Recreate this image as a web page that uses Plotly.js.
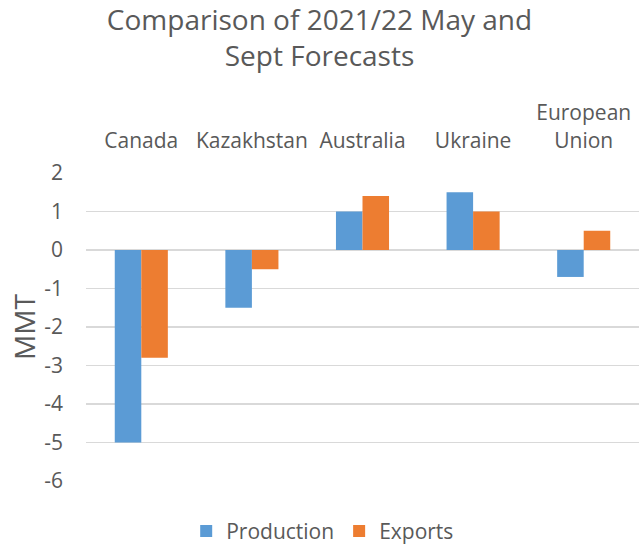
<!DOCTYPE html>
<html>
<head>
<meta charset="utf-8">
<script src="https://cdn.plot.ly/plotly-3.0.1.min.js"></script>
<style>html,body{margin:0;padding:0;background:#fff;}#chart{width:639px;height:545px;}</style>
</head>
<body>
<div id="chart"></div>
<script>
const categories = ["Canada", "Kazakhstan", "Australia", "Ukraine", "European<br>Union"];
const production = [-5, -1.5, 1, 1.5, -0.7];
const exports = [-2.8, -0.5, 1.4, 1, 0.5];
const yTicks = [2, 1, 0, -1, -2, -3, -4, -5, -6];

const font = "'Open Sans', sans-serif";
const txt = "#595959";

const data = [
  {type: "bar", name: "Production", x: categories, y: production,
   marker: {color: "#5B9BD5", line: {width: 0}}},
  {type: "bar", name: "Exports", x: categories, y: exports,
   marker: {color: "#ED7D31", line: {width: 0}}}
];

const layout = {
  width: 639, height: 545,
  margin: {l: 86, r: 0, t: 173, b: 64, autoexpand: false},
  paper_bgcolor: "#fff", plot_bgcolor: "#fff",
  font: {family: font, color: txt, size: 18},
  title: {text: "Comparison of 2021/22 May and<br>Sept Forecasts",
          x: 0.5, xanchor: "center", y: 0.945, yanchor: "top",
          font: {size: 28, color: txt, family: font}},
  barmode: "group", bargap: 0.52, bargroupgap: 0,
  xaxis: {side: "top", showgrid: false, zeroline: false, showline: false,
          ticks: "", ticklabelstandoff: 20, tickfont: {size: 21, color: txt},
          fixedrange: true},
  yaxis: {range: [-6, 2], tickvals: yTicks, ticktext: yTicks.map(String),
          showgrid: true, gridcolor: "#d9d9d9", gridwidth: 1.5,
          zeroline: true, zerolinecolor: "#d9d9d9", zerolinewidth: 1.5,
          showline: false, ticks: "", ticklabelstandoff: 22,
          tickfont: {size: 21, color: txt},
          title: {text: "MMT", font: {size: 28, color: txt}, standoff: 0}},
  showlegend: true,
  legend: {orientation: "h", xref: "container", x: 0.505, xanchor: "center",
           yref: "container", y: 0.025, yanchor: "middle",
           font: {size: 21, color: txt}, itemwidth: 30, traceorder: "normal"}
};

Plotly.newPlot("chart", data, layout, {displayModeBar: false, staticPlot: true});
</script>
</body>
</html>
